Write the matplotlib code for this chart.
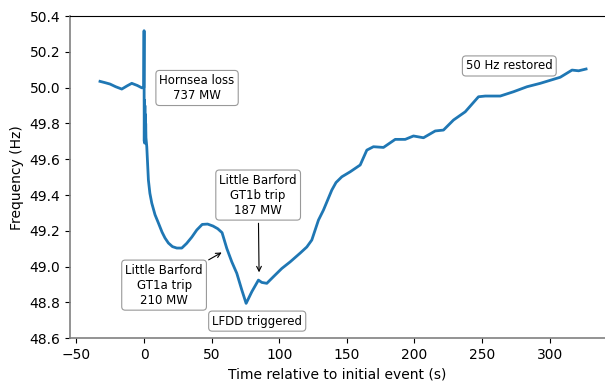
import matplotlib
matplotlib.use("Agg")
import matplotlib.pyplot as plt

# Time (s) relative to initial event and frequency (Hz)
time_s = [-32.6, -29.0, -25.2, -21.0, -16.5, -12.5, -9.1, -5.0, -1.7, -0.2,
          0.0, 0.05, 0.15, 0.3, 0.45, 0.6, 0.75, 0.9, 1.05, 1.2, 1.4,
          2.0, 3.2, 4.3, 5.7, 8.1, 10.6, 13.3, 15.5, 18.0, 21.0, 24.2, 27.9,
          31.5, 35.3, 39.0, 43.0, 47.0, 51.0, 54.5, 57.7,
          61.2, 64.9, 68.6, 72.3, 75.5, 79.7, 84.6, 87.1, 90.8, 95.7,
          101.9, 108.1, 115.5, 120.4, 124.1, 129.0, 132.7, 138.9, 142.0, 146.3,
          152.5, 159.9, 164.8, 169.7, 177.1, 185.8, 193.2, 199.3, 206.7,
          215.4, 221.5, 228.9, 237.6, 247.4, 252.4, 263.5, 273.3, 283.3,
          293.1, 307.9, 316.6, 321.5, 327.0]
freq_hz = [50.035, 50.028, 50.020, 50.005, 49.992, 50.010, 50.024, 50.012, 49.999, 50.000,
           50.318, 49.95, 49.70, 49.93, 49.69, 49.90, 49.72, 49.85, 49.70, 49.80, 49.72,
           49.67, 49.484, 49.41, 49.355, 49.29, 49.244, 49.193, 49.16, 49.132, 49.112, 49.104, 49.104,
           49.13, 49.165, 49.205, 49.236, 49.238, 49.227, 49.212, 49.19,
           49.102, 49.027, 48.963, 48.870, 48.795, 48.860, 48.925, 48.912, 48.907, 48.944,
           48.990, 49.027, 49.076, 49.110, 49.149, 49.260, 49.316, 49.428, 49.470, 49.502,
           49.530, 49.568, 49.651, 49.670, 49.666, 49.711, 49.711, 49.730, 49.720,
           49.758, 49.763, 49.819, 49.865, 49.949, 49.953, 49.953, 49.977, 50.005,
           50.024, 50.058, 50.098, 50.094, 50.104]

# Annotations: text, text position (t, f), arrow target (t, f) or None
ann_texts = ["Hornsea loss\n737 MW", "Little Barford\nGT1a trip\n210 MW",
             "Little Barford\nGT1b trip\n187 MW", "LFDD triggered", "50 Hz restored"]
ann_text_pos = [(39.2, 49.998), (14.8, 48.897), (84.4, 49.40), (83.7, 48.696), (270.2, 50.121)]
ann_targets = [None, (59.2, 49.087), (85.1, 48.953), None, None]

x_ticks = [-50, 0, 50, 100, 150, 200, 250, 300]
y_ticks = [48.6, 48.8, 49.0, 49.2, 49.4, 49.6, 49.8, 50.0, 50.2, 50.4]

fig = plt.figure(figsize=(6.05, 3.82), dpi=100)
ax = fig.add_axes([0.1157, 0.1144, 0.8843, 0.8437])

ax.plot(time_s, freq_hz, color="#1f77b4", lw=2.0, solid_joinstyle="round")

ax.set_xlim(-54.8, 341)
ax.set_ylim(48.6, 50.4)
ax.set_xticks(x_ticks)
ax.set_yticks(y_ticks)
ax.set_yticklabels([f"{v:.1f}" for v in y_ticks])
ax.tick_params(labelsize=10)
ax.set_xlabel("Time relative to initial event (s)", fontsize=10)
ax.set_ylabel("Frequency (Hz)", fontsize=10)

ax.spines["right"].set_visible(False)
ax.spines["top"].set_color("black")
ax.spines["left"].set_color("#808080")
ax.spines["bottom"].set_color("#808080")
ax.spines["left"].set_linewidth(1.2)
ax.spines["bottom"].set_linewidth(1.2)

bbox = dict(boxstyle="round,pad=0.3", fc="white", ec="#999999", lw=0.8)
for txt, pos, tgt in zip(ann_texts, ann_text_pos, ann_targets):
    if tgt is None:
        ax.text(pos[0], pos[1], txt, ha="center", va="center", fontsize=8.5,
                bbox=bbox, multialignment="center")
    else:
        ax.annotate(txt, xy=tgt, xytext=pos, ha="center", va="center",
                    fontsize=8.5, bbox=bbox, multialignment="center",
                    arrowprops=dict(arrowstyle="->", color="black", lw=0.8))

fig.savefig("out.png", dpi=100)
